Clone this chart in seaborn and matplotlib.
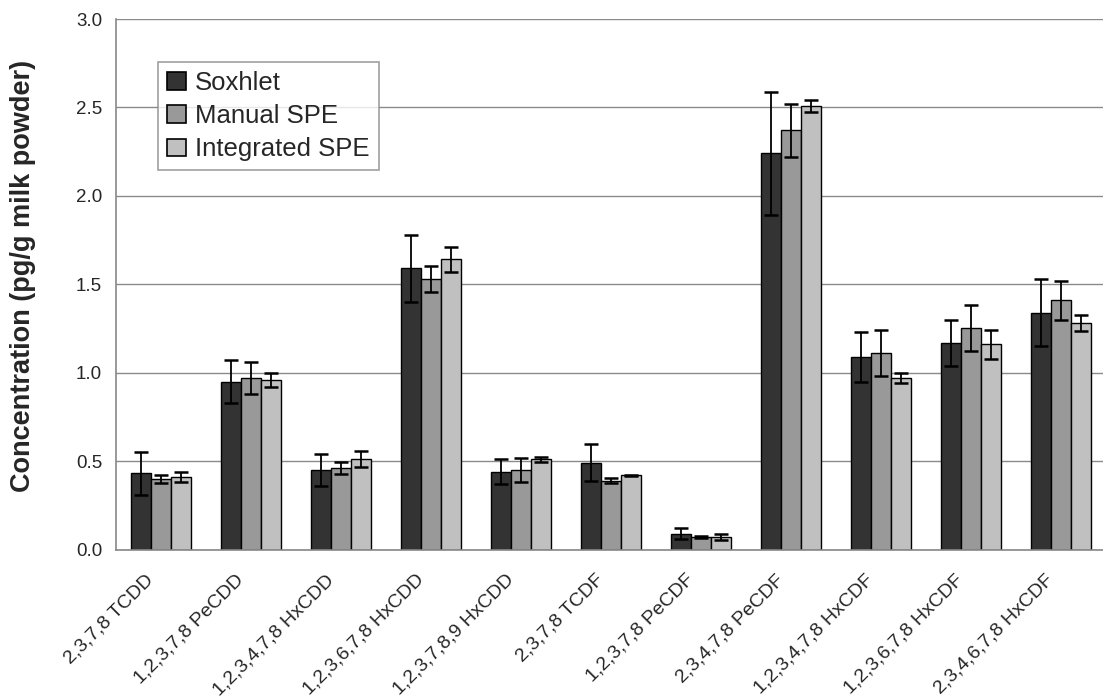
import numpy as np
import pandas as pd
import matplotlib
matplotlib.use("Agg")
import matplotlib.pyplot as plt
import matplotlib.transforms as mtransforms
import seaborn as sns
from matplotlib.ticker import FixedLocator

# Congeners and extraction methods
congeners = [
    "2,3,7,8 TCDD", "1,2,3,7,8 PeCDD", "1,2,3,4,7,8 HxCDD", "1,2,3,6,7,8 HxCDD",
    "1,2,3,7,8,9 HxCDD", "2,3,7,8 TCDF", "1,2,3,7,8 PeCDF", "2,3,4,7,8 PeCDF",
    "1,2,3,4,7,8 HxCDF", "1,2,3,6,7,8 HxCDF", "2,3,4,6,7,8 HxCDF",
]
methods = ["Soxhlet", "Manual SPE", "Integrated SPE"]

# Mean concentrations (pg/g milk powder)
soxhlet = [0.43, 0.95, 0.45, 1.59, 0.44, 0.49, 0.09, 2.24, 1.09, 1.17, 1.34]
manual_spe = [0.40, 0.97, 0.46, 1.53, 0.45, 0.39, 0.07, 2.37, 1.11, 1.25, 1.41]
integrated_spe = [0.41, 0.96, 0.51, 1.64, 0.51, 0.42, 0.07, 2.51, 0.97, 1.16, 1.28]

# Standard deviations
soxhlet_sd = [0.12, 0.12, 0.09, 0.19, 0.07, 0.105, 0.03, 0.35, 0.14, 0.13, 0.19]
manual_spe_sd = [0.023, 0.09, 0.035, 0.075, 0.07, 0.013, 0.004, 0.15, 0.13, 0.13, 0.11]
integrated_spe_sd = [0.03, 0.04, 0.045, 0.072, 0.013, 0.004, 0.015, 0.034, 0.028, 0.08, 0.047]

y_ticks = [0.0, 0.5, 1.0, 1.5, 2.0, 2.5, 3.0]

means = {"Soxhlet": soxhlet, "Manual SPE": manual_spe, "Integrated SPE": integrated_spe}
sds = {"Soxhlet": soxhlet_sd, "Manual SPE": manual_spe_sd, "Integrated SPE": integrated_spe_sd}

df = pd.DataFrame(
    [(c, m, means[m][i], sds[m][i]) for m in methods for i, c in enumerate(congeners)],
    columns=["congener", "method", "conc", "sd"],
)

colors = {"Soxhlet": "#333333", "Manual SPE": "#999999", "Integrated SPE": "#c0c0c0"}

sns.set_style("white")
plt.rcParams["font.family"] = ["Liberation Sans", "DejaVu Sans"]

fig = plt.figure(figsize=(11.03, 6.98), dpi=100)
ax = fig.add_axes([116 / 1103, 1 - 549.5 / 698, 990 / 1103, (549.5 - 19) / 698])

sns.barplot(
    data=df, x="congener", y="conc", hue="method", order=congeners, hue_order=methods,
    palette=colors, errorbar=None, width=0.667, edgecolor="black", linewidth=1.0,
    saturation=1, ax=ax, zorder=2,
)

# Error bars centred on each bar
for container, m in zip(ax.containers, methods):
    xs = [p.get_x() + p.get_width() / 2 for p in container.patches]
    ys = [p.get_height() for p in container.patches]
    ax.errorbar(xs, ys, yerr=sds[m], fmt="none", ecolor="black",
                elinewidth=1.3, capsize=5, capthick=1.8, zorder=3)

ax.set_ylim(0, 3.0)
ax.set_xlim(-0.5, len(congeners) - 0.5)
ax.set_yticks(y_ticks)
ax.set_yticklabels([f"{v:.1f}" for v in y_ticks], fontsize=13.5)
ax.yaxis.grid(True, color="#8a8a8a", linewidth=1.0, zorder=0)
ax.set_axisbelow(True)

# Category labels, tick marks at group boundaries
ax.set_xticks(range(len(congeners)))
ax.tick_params(axis="x", which="major", length=0, pad=20)
ax.xaxis.set_minor_locator(FixedLocator(np.arange(-0.5, len(congeners), 1.0)))
ax.tick_params(axis="x", which="minor", length=6, width=1, color="#888888", direction="out")
ax.tick_params(axis="y", length=6, width=1, color="#888888", direction="out", pad=4)
ax.set_xticklabels(congeners, rotation=45, ha="right", va="center",
                   rotation_mode="anchor", fontsize=14)
shift = mtransforms.ScaledTranslation(-10 / 100, 0, fig.dpi_scale_trans)
for lbl in ax.get_xticklabels():
    lbl.set_transform(lbl.get_transform() + shift)

for side in ["top", "right"]:
    ax.spines[side].set_visible(False)
for side in ["left", "bottom"]:
    ax.spines[side].set_color("#888888")
    ax.spines[side].set_linewidth(1.2)

ax.set_xlabel("")
ax.set_ylabel("Concentration (pg/g milk powder)", fontsize=19.5, fontweight="bold")
ax.yaxis.set_label_coords(-0.081, 0.515)

leg = ax.legend(
    loc="upper left", bbox_to_anchor=(42 / 990, 1 - 43 / 530.5), fontsize=18.5,
    frameon=True, fancybox=False, edgecolor="#888888", handlelength=0.75, handleheight=0.7,
    handletextpad=0.35, labelspacing=0.36, borderpad=0.35, borderaxespad=0,
)
leg.get_frame().set_linewidth(1.2)
for h in leg.legend_handles:
    h.set_edgecolor("black")
    h.set_linewidth(1.2)

fig.savefig("out.png", dpi=100)
